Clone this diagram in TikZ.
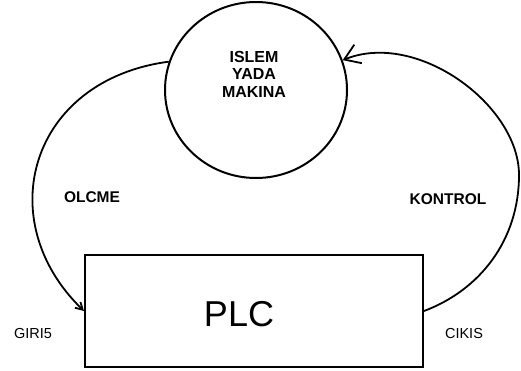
\documentclass[tikz,border=0pt]{standalone}
\usepackage{fontspec}
\setmainfont{Liberation Sans}
\usetikzlibrary{shapes.geometric,arrows.meta}

\tikzset{
  outline/.style={draw=black, line width=2pt},
  flow/.style={draw=black, line width=1.8pt},
  heavylabel/.style={font=\bfseries\fontsize{15.5}{17.5}\selectfont, inner sep=0pt},
  portlabel/.style={font=\fontsize{14.5}{16}\selectfont, inner sep=0pt}
}

\begin{document}
\begin{tikzpicture}[x=1pt, y=-1pt]
  \useasboundingbox (0,0) rectangle (521,370);

  % process and controller
  \node[outline, ellipse, minimum width=182pt, minimum height=176pt, inner sep=0pt] (proc) at (256,90) {};
  \node[heavylabel, align=center, font=\bfseries\fontsize{16}{17.5}\selectfont] (proclabel) at (254,74) {ISLEM\\YADA\\MAKINA};
  \node[outline, rectangle, minimum width=338pt, minimum height=112pt, inner sep=0pt] (plc) at (254,311) {};
  \node[font=\fontsize{36}{40}\selectfont, inner sep=0pt] (plclabel) at (239,314) {PLC};

  % loop labels
  \node[heavylabel] (olcme) at (92,197) {OLCME};
  \node[heavylabel] (kontrol) at (448,199) {KONTROL};
  \node[portlabel] (giris) at (33,333) {GIRI5};
  \node[portlabel] (cikis) at (464,333) {CIKIS};

  % measurement path: process -> PLC input
  \draw[flow, -{Straight Barb[length=7pt, width=8pt]}]
    (proc.162) .. controls (30,80) and (-10,220) .. (plc.west);

  % control path: PLC output -> process
  \coordinate (kturn) at (519,175);
  \draw[flow, -{Straight Barb[length=15pt, width=20pt]}]
    (plc.east) .. controls (480,290) and (519,240) .. (kturn)
    .. controls (519,105) and (417,30) .. (proc.19);
\end{tikzpicture}
\end{document}
